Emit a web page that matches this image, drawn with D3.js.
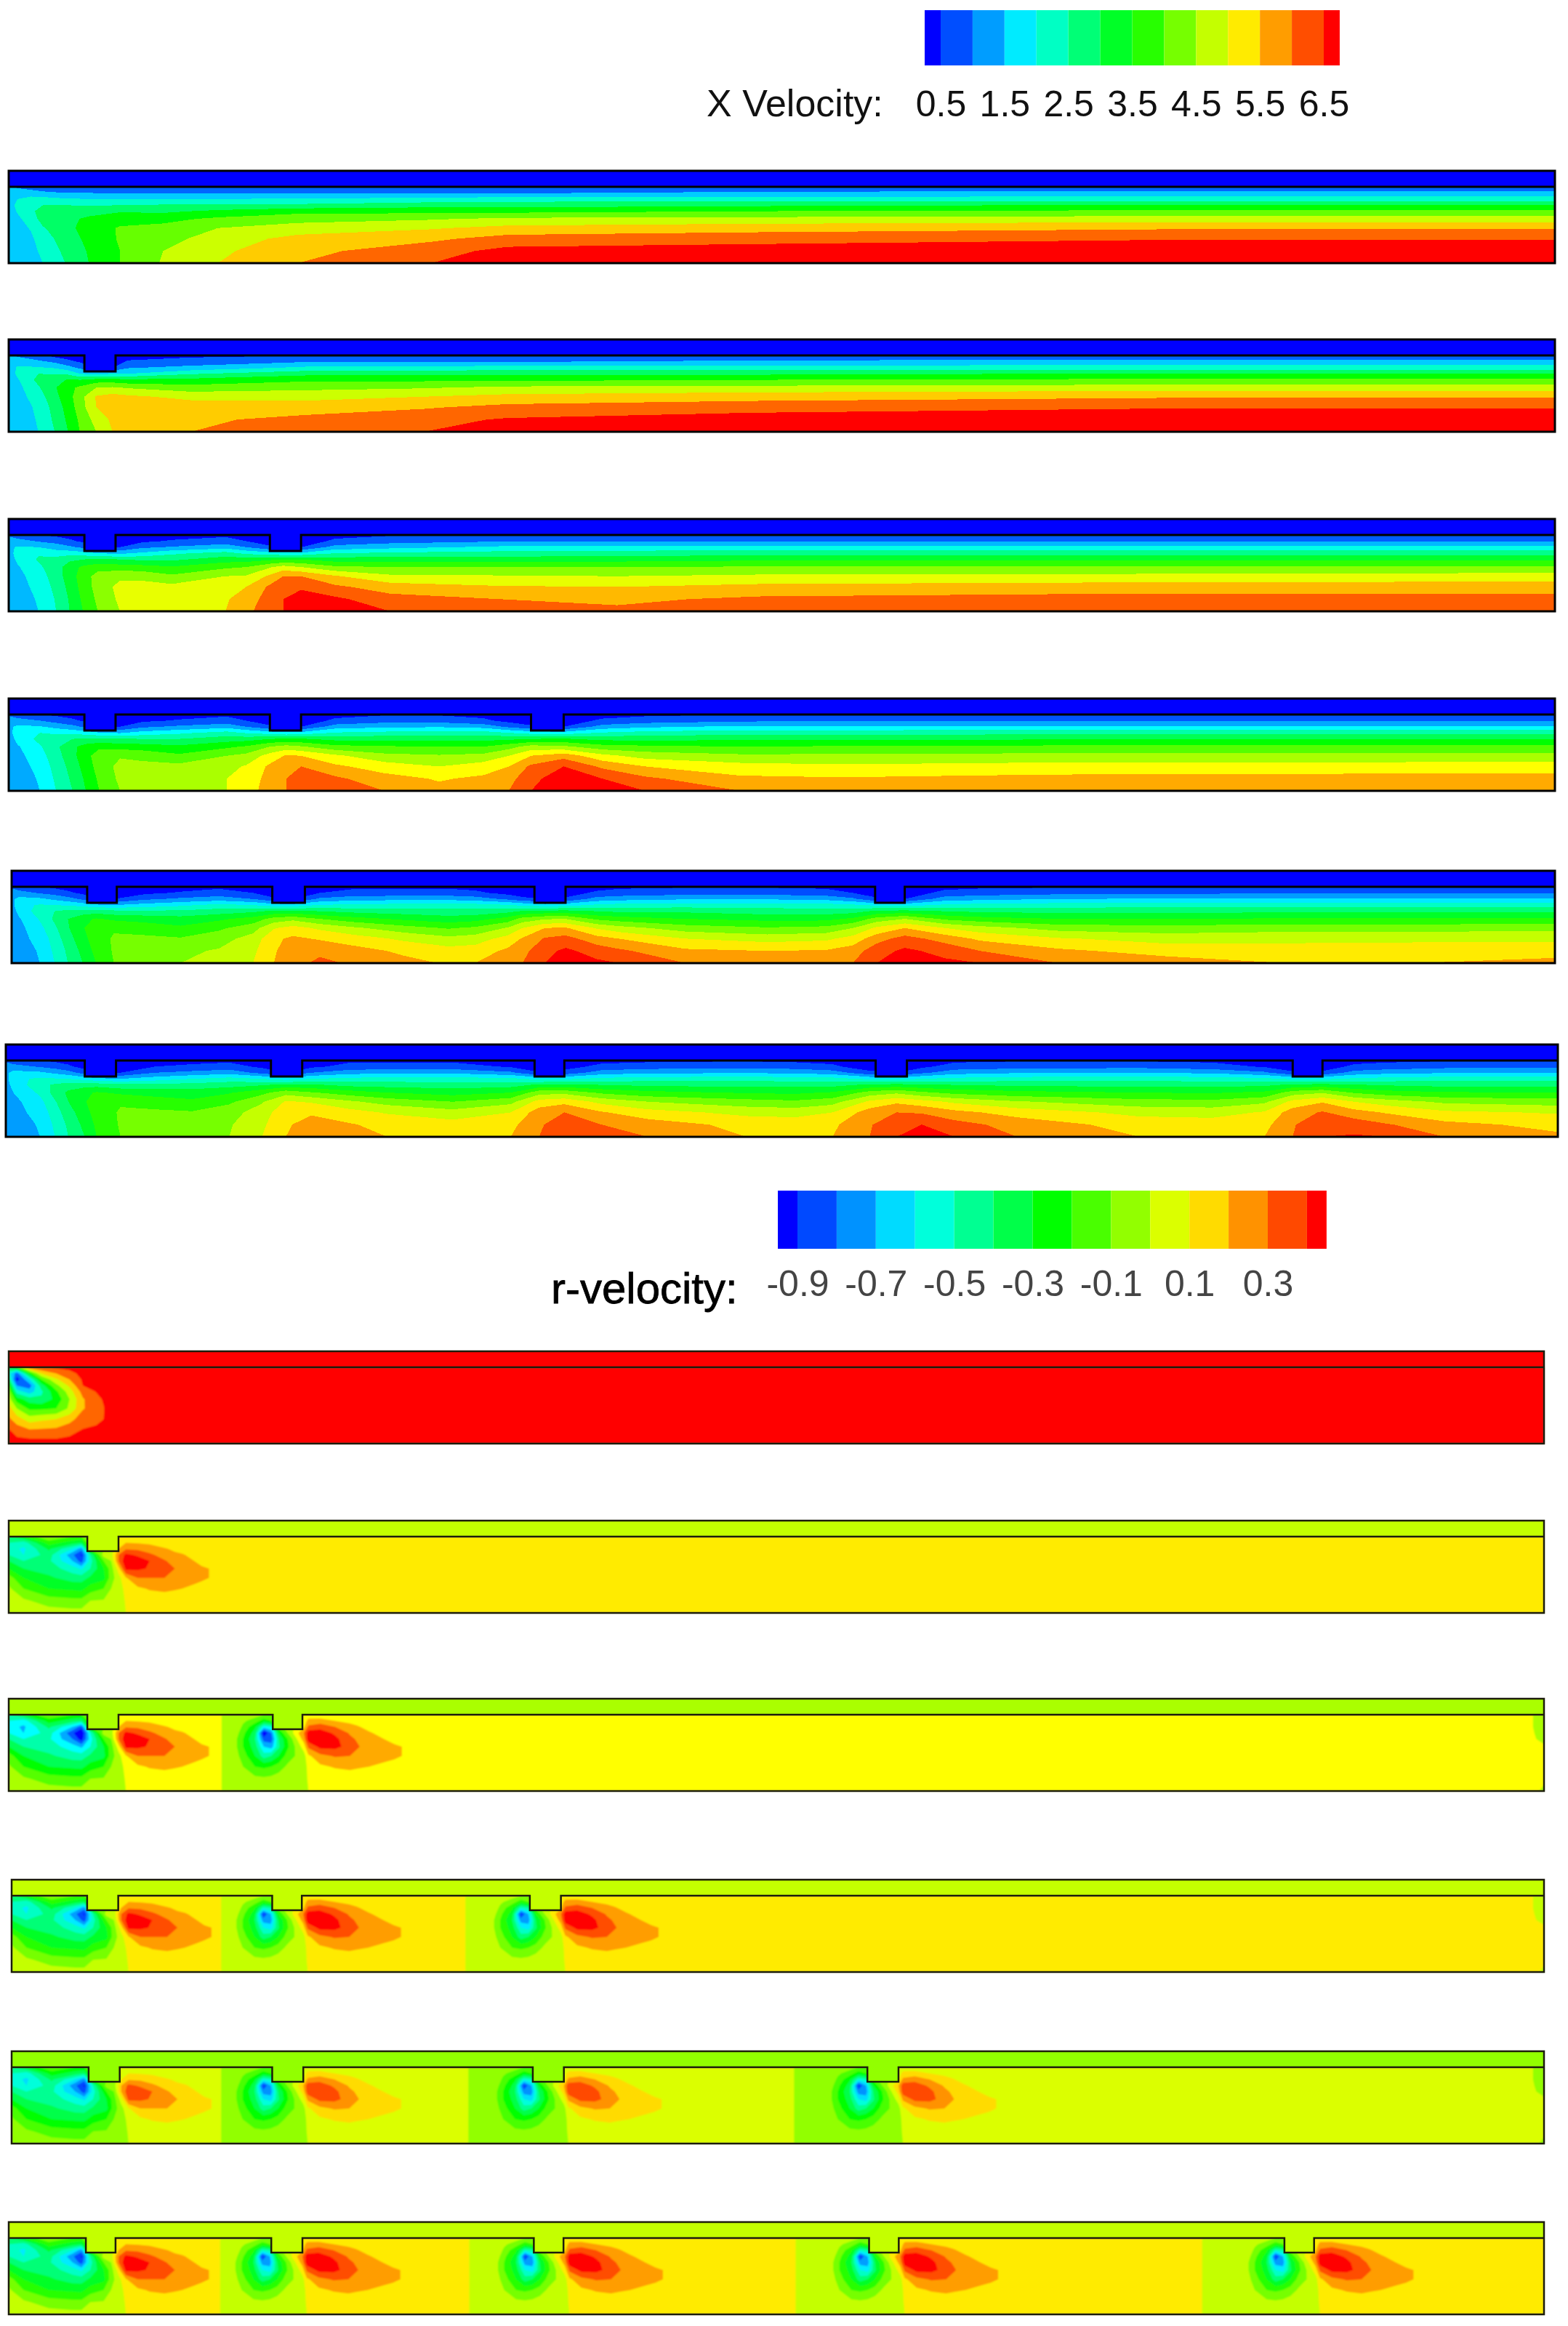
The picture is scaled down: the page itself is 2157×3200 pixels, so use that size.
<!DOCTYPE html>
<html>
<head>
<meta charset="utf-8">
<style>body{margin:0;background:#fff}text{font-family:"Liberation Sans",Arial,sans-serif}</style>
</head>
<body>
<svg></svg>
<script src="https://d3js.org/d3.v7.min.js"></script>
<script>
// depth stations across the channel, 0 at the wall and 1 at the axis
const rowDepths = [0, .08, .16, .24, .32, .42, .54, .68, .84, 1];

// X velocity, each column is [axial station, value at each depth]
const xVel1 = [
  [0,1.1,1.2,1.25,1.25,1.2,1.2,1.2,1.15,1.15,1.15],
  [6,.9,1.35,1.5,1.65,1.55,1.4,1.3,1.25,1.2,1.15],
  [15,.8,1.2,1.7,1.95,1.9,1.75,1.55,1.4,1.3,1.25],
  [23,.7,1.1,1.7,2,2.2,2.2,1.95,1.8,1.65,1.5],
  [38,.6,1,1.55,2,2.2,2.35,2.35,2.2,2.1,2],
  [54,.6,1,1.5,1.95,2.3,2.6,2.7,2.65,2.55,2.5],
  [75,.55,.95,1.5,2,2.45,2.8,3.05,3.05,3,3],
  [104,.5,.95,1.5,2.05,2.4,2.85,3.15,3.3,3.5,3.55],
  [141,.5,.95,1.5,2.1,2.6,3.1,3.5,3.75,3.9,4],
  [195,.5,.95,1.55,2.1,2.85,3.3,3.75,4.15,4.35,4.5],
  [285,.5,.95,1.65,2.3,2.85,3.45,3.95,4.4,4.8,5],
  [336,.5,.95,1.75,2.3,2.85,3.6,4.15,4.7,5.15,5.35],
  [500,.55,1.1,1.75,2.4,3,3.65,4.3,4.8,5.25,5.45],
  [800,.6,1.2,1.7,2.55,3.1,3.75,4.45,4.97,5.4,5.6],
  [1042,.6,1.2,1.7,2.55,3.1,3.75,4.45,4.97,5.4,5.6]
];
const xVel2 = [
  [0,1.1,1.2,1.25,1.25,1.2,1.2,1.2,1.15,1.15,1.15],
  [6,.9,1.35,1.55,1.6,1.45,1.35,1.3,1.25,1.2,1.15],
  [20,.6,1.1,1.55,2,2.15,1.95,1.75,1.6,1.55,1.5],
  [31,.35,.9,1.45,1.95,2.3,2.45,2.35,2.2,2.1,2],
  [40,.3,.6,1.2,1.9,2.55,2.85,2.8,2.7,2.6,2.5],
  [48,.2,.45,.9,1.5,2.5,3.1,3.3,3.25,3.1,3],
  [59,.2,.2,.4,1.3,2.7,3.5,4.05,4,3.7,3.5],
  [70,.2,.2,.5,1.5,2.7,3.55,4.2,4.2,4.1,4],
  [80,.3,.55,.95,1.5,2.6,3.45,4.1,4.25,4.2,4.2],
  [123,.4,.7,1.15,1.95,2.65,3.2,3.85,4.3,4.4,4.5],
  [200,.5,.95,1.6,2.35,2.9,3.35,3.85,4.25,4.65,4.85],
  [280,.5,.95,1.65,2.35,2.9,3.45,4,4.45,4.85,5],
  [336,.5,.95,1.75,2.4,2.9,3.6,4.15,4.65,5.05,5.3],
  [500,.55,1.1,1.75,2.4,3,3.65,4.3,4.8,5.25,5.45],
  [800,.6,1.2,1.7,2.55,3.1,3.75,4.45,4.97,5.4,5.6],
  [1042,.6,1.2,1.7,2.55,3.1,3.75,4.45,4.97,5.4,5.6]
];
const xVel3 = [
  [0,.9,1.3,1.4,1.3,1.25,1.2,1.2,1.15,1.15,1.15],
  [6,.7,1.2,1.55,1.7,1.6,1.45,1.35,1.3,1.25,1.2],
  [20,.5,.95,1.5,1.95,2.05,1.9,1.75,1.65,1.55,1.5],
  [32,.4,.8,1.3,1.75,2.2,2.3,2.25,2.15,2.05,2],
  [41,.3,.6,1.1,1.8,2.4,2.75,2.75,2.65,2.55,2.5],
  [50,.2,.4,.9,1.7,2.5,3.1,3.25,3.2,3.1,3],
  [60,.2,.2,.5,1.5,2.6,3.3,3.7,3.7,3.6,3.5],
  [75,.2,.2,.5,1.4,2.5,3.25,3.9,4.15,4.1,4],
  [90,.25,.4,.9,1.6,2.4,3.2,3.85,4.2,4.25,4.2],
  [110,.3,.55,1.05,1.9,2.4,3.05,3.6,4.15,4.35,4.35],
  [146,.4,.7,1.3,2.2,2.75,3.4,4,4.35,4.45,4.5],
  [160,.3,.5,1,1.9,2.75,3.5,4.05,4.5,4.7,4.85],
  [176,.2,.2,.6,1.7,2.9,3.95,4.6,5.1,5.25,5.35],
  [185,.2,.2,.4,1.6,3,4.2,5,5.45,5.5,5.5],
  [197,.2,.2,.5,1.6,3,4,5,5.45,5.65,5.75],
  [220,.35,.6,1.2,2,2.75,3.6,4.55,5.1,5.6,5.75],
  [257,.45,.8,1.35,2.1,2.8,3.5,4.1,4.75,5.2,5.5],
  [330,.5,.95,1.6,2.2,2.75,3.5,4.05,4.55,5,5.2],
  [410,.5,.95,1.65,2.25,2.8,3.5,4,4.5,4.9,5.1],
  [507,.5,.95,1.7,2.3,2.9,3.55,4.1,4.65,5.1,5.3],
  [750,.5,.95,1.7,2.3,2.9,3.55,4.15,4.75,5.2,5.4],
  [1042,.5,.95,1.7,2.3,2.9,3.55,4.25,4.75,5.2,5.4]
];
const xVel4 = [
  [0,.9,1.3,1.4,1.3,1.25,1.2,1.2,1.15,1.15,1.15],
  [6,.7,1.2,1.6,1.8,1.65,1.45,1.35,1.3,1.25,1.2],
  [21,.5,1,1.55,2,2.15,1.95,1.8,1.65,1.55,1.5],
  [32,.4,.8,1.35,1.9,2.3,2.4,2.3,2.2,2.1,2],
  [43,.3,.6,1.15,1.85,2.5,2.9,2.85,2.7,2.6,2.5],
  [52,.2,.4,.9,1.75,2.6,3.2,3.35,3.25,3.1,3],
  [61,.2,.2,.5,1.55,2.6,3.4,3.75,3.7,3.6,3.5],
  [75,.2,.2,.5,1.45,2.55,3.3,3.95,4.15,4.1,4],
  [90,.25,.4,.9,1.7,2.5,3.25,3.85,4.15,4.25,4.2],
  [115,.3,.55,1.1,1.9,2.5,3.1,3.6,4.15,4.35,4.35],
  [147,.4,.7,1.3,2.2,2.75,3.4,4,4.35,4.5,4.5],
  [160,.3,.5,1,1.95,2.8,3.55,4.15,4.55,4.75,4.8],
  [176,.2,.2,.6,1.75,3,4,4.7,5.1,5.15,5.2],
  [187,.2,.2,.4,1.6,3.05,4.2,5.05,5.4,5.5,5.5],
  [197,.2,.2,.5,1.65,3.05,4.05,5,5.5,5.7,5.75],
  [220,.35,.6,1.25,2.05,2.85,3.65,4.6,5.1,5.6,5.75],
  [253,.45,.8,1.4,2.15,2.85,3.55,4.15,4.75,5.2,5.5],
  [290,.45,.8,1.45,2.2,2.85,3.5,4.05,4.5,4.95,5.15],
  [320,.35,.6,1.3,2.25,2.85,3.5,4.15,4.75,5.1,5.4],
  [337,.25,.35,.9,2,2.9,3.8,4.5,5,5.3,5.5],
  [352,.2,.2,.6,1.8,3,4.2,5,5.6,5.9,6],
  [374,.2,.2,.5,1.7,3.05,4.1,5.3,6,6.2,6.3],
  [400,.3,.6,1.2,2.05,2.85,3.7,4.65,5.4,6,6.2],
  [429,.4,.75,1.4,2.2,2.85,3.6,4.3,5,5.6,6],
  [493,.5,.9,1.6,2.3,2.9,3.5,4.1,4.7,5.1,5.5],
  [560,.5,.95,1.6,2.3,2.9,3.55,4.1,4.6,5.05,5.3],
  [700,.5,.95,1.6,2.35,2.95,3.6,4.15,4.7,5.15,5.35],
  [1042,.5,.95,1.6,2.35,2.95,3.6,4.15,4.75,5.2,5.4]
];
const xVel5 = [
  [0,.9,1.3,1.4,1.3,1.25,1.2,1.2,1.15,1.15,1.15],
  [5,.7,1.2,1.65,1.85,1.65,1.45,1.35,1.3,1.25,1.2],
  [19,.5,.95,1.6,2.05,2.25,2.05,1.85,1.7,1.55,1.5],
  [29,.4,.8,1.4,2,2.5,2.6,2.4,2.2,2.1,2],
  [38,.3,.6,1.2,1.95,2.65,3,2.95,2.8,2.6,2.5],
  [48,.2,.4,.9,1.8,2.7,3.35,3.45,3.3,3.15,3],
  [57,.2,.2,.5,1.6,2.75,3.55,3.85,3.8,3.65,3.5],
  [69,.2,.2,.5,1.5,2.65,3.4,3.95,4.05,4.05,4],
  [90,.25,.4,.9,1.7,2.6,3.3,3.8,4.1,4.2,4.2],
  [114,.3,.55,1.1,1.9,2.6,3.2,3.6,4.05,4.4,4.5],
  [140,.4,.7,1.25,2.15,2.75,3.4,3.9,4.3,4.55,4.7],
  [163,.3,.5,1,2,2.9,3.7,4.3,4.7,4.9,5],
  [177,.2,.2,.6,1.75,3.1,4.2,4.95,5.4,5.45,5.5],
  [190,.2,.2,.5,1.7,3.15,4.35,5.2,5.6,5.75,5.85],
  [208,.3,.5,1.1,2.05,3,4,4.9,5.45,5.9,6.1],
  [230,.4,.65,1.3,2.1,2.85,3.7,4.6,5.25,5.7,5.95],
  [265,.4,.7,1.35,2.2,2.75,3.4,4.2,4.9,5.4,5.65],
  [295,.4,.7,1.35,2.2,2.7,3.2,3.95,4.65,5.2,5.45],
  [313,.35,.6,1.25,2.2,2.7,3.3,4.1,4.75,5.25,5.5],
  [335,.25,.35,.9,2.05,2.85,3.7,4.55,5.2,5.6,5.85],
  [345,.2,.2,.65,1.9,3.05,4.2,5,5.55,5.85,6],
  [360,.2,.2,.5,1.75,3.15,4.45,5.5,6.05,6.35,6.5],
  [374,.2,.25,.6,1.8,3.2,4.5,5.55,6.2,6.6,6.75],
  [395,.3,.6,1.2,2.1,3,3.9,4.95,5.7,6.3,6.6],
  [410,.4,.7,1.3,2.2,2.9,3.75,4.7,5.5,6.1,6.5],
  [455,.45,.8,1.45,2.25,2.9,3.5,4.25,5,5.6,6],
  [510,.45,.8,1.45,2.25,2.75,3.35,4.05,4.8,5.5,5.85],
  [550,.4,.7,1.35,2.2,2.75,3.35,4.15,4.9,5.55,5.95],
  [568,.3,.5,1.1,2.1,2.8,3.6,4.5,5.2,5.75,6],
  [584,.2,.2,.6,1.9,3.1,4.2,5.1,5.8,6.3,6.5],
  [603,.2,.2,.5,1.8,3.2,4.5,5.5,6.2,6.6,6.75],
  [630,.35,.65,1.25,2.1,3,3.9,5,5.8,6.35,6.6],
  [654,.4,.75,1.35,2.2,2.9,3.7,4.7,5.4,6,6.5],
  [707,.45,.85,1.5,2.25,2.85,3.5,4.3,5.05,5.6,6],
  [780,.5,.9,1.55,2.3,2.85,3.5,4.2,4.8,5.3,5.75],
  [860,.5,.93,1.6,2.3,2.9,3.55,4.3,4.85,5.25,5.5],
  [948,.5,.93,1.6,2.3,2.9,3.55,4.3,4.87,5.3,5.5],
  [1042,.5,.93,1.6,2.3,2.9,3.55,4.35,4.87,5.3,5.65]
];
const xVel6 = [
  [0,.9,1.3,1.4,1.3,1.25,1.2,1.2,1.15,1.15,1.15],
  [5,.7,1.2,1.65,1.85,1.7,1.5,1.35,1.3,1.25,1.2],
  [23,.5,.95,1.6,2.1,2.3,2.1,1.85,1.7,1.55,1.5],
  [33,.4,.8,1.4,2.05,2.6,2.7,2.45,2.25,2.1,2],
  [42,.3,.6,1.2,2,2.75,3.1,3,2.8,2.6,2.5],
  [53,.2,.3,.8,1.8,2.8,3.4,3.45,3.3,3.15,3],
  [61,.2,.2,.5,1.65,2.8,3.55,3.85,3.75,3.6,3.5],
  [77,.2,.2,.5,1.5,2.65,3.4,3.95,4.05,4.05,4],
  [100,.3,.5,1,1.75,2.65,3.3,3.75,4.1,4.2,4.2],
  [125,.35,.6,1.15,2,2.7,3.25,3.6,4.05,4.35,4.4],
  [150,.4,.7,1.3,2.2,2.8,3.45,3.9,4.3,4.45,4.5],
  [172,.25,.4,.85,2,2.95,3.85,4.45,4.75,4.9,5],
  [188,.2,.2,.5,1.75,3.15,4.3,5.05,5.35,5.45,5.5],
  [205,.25,.4,1,2,3.1,4.05,4.95,5.45,5.65,5.7],
  [230,.4,.65,1.3,2.15,2.85,3.75,4.6,5.2,5.55,5.65],
  [256,.4,.7,1.4,2.2,2.8,3.5,4.3,4.95,5.35,5.5],
  [300,.4,.7,1.4,2.2,2.75,3.3,4,4.7,5.2,5.4],
  [339,.3,.45,1.1,2.15,2.8,3.5,4.35,5,5.35,5.5],
  [358,.2,.2,.55,1.85,3.1,4.3,5.2,5.75,5.95,6],
  [375,.25,.3,.7,1.9,3.15,4.35,5.35,6,6.2,6.3],
  [400,.35,.65,1.25,2.15,3,3.9,4.85,5.55,6,6.2],
  [431,.4,.75,1.4,2.25,2.9,3.65,4.5,5.2,5.75,6],
  [497,.45,.85,1.45,2.3,2.85,3.45,4.2,4.85,5.35,5.5],
  [530,.4,.75,1.4,2.25,2.85,3.4,4.1,4.8,5.3,5.45],
  [555,.35,.6,1.25,2.2,2.85,3.55,4.3,5,5.4,5.5],
  [580,.2,.2,.65,1.9,3.1,4.2,5.1,5.75,5.95,6],
  [598,.2,.2,.5,1.8,3.2,4.4,5.4,6,6.4,6.5],
  [615,.3,.4,.9,2,3.1,4.1,5.2,5.95,6.5,6.65],
  [637,.4,.7,1.3,2.15,3,3.85,4.9,5.65,6.2,6.5],
  [679,.45,.8,1.45,2.25,2.9,3.65,4.55,5.3,5.8,6],
  [761,.45,.85,1.5,2.3,2.85,3.5,4.2,4.85,5.3,5.5],
  [810,.4,.7,1.4,2.25,2.85,3.45,4.15,4.8,5.25,5.45],
  [845,.3,.45,1.1,2.15,2.9,3.6,4.4,5.05,5.35,5.5],
  [864,.2,.2,.6,1.9,3.1,4.25,5.15,5.75,5.95,6],
  [884,.2,.25,.6,1.9,3.2,4.45,5.45,6.05,6.4,6.5],
  [905,.35,.6,1.2,2.1,3.05,3.95,5,5.7,6.3,6.55],
  [927,.4,.7,1.35,2.2,2.95,3.7,4.75,5.45,6.05,6.5],
  [966,.45,.85,1.45,2.3,2.85,3.55,4.4,5.1,5.65,6],
  [1042,.45,.85,1.5,2.3,2.85,3.5,4.25,4.95,5.35,5.6]
];

// r-velocity, no fin: the single cell at the inlet
const rInlet = [
  [0,-.5,-.65,-.55,-.4,-.3,-.25,-.15,-.08,.02,.05],
  [5.5,-.4,-.85,-.95,-.8,-.65,-.45,-.3,-.15,-.04,.05],
  [14,-.05,-.45,-.7,-.85,-.75,-.55,-.42,-.25,-.07,.05],
  [22,0,-.2,-.4,-.55,-.62,-.58,-.42,-.22,-.07,.05],
  [32,.02,-.1,-.22,-.33,-.42,-.47,-.4,-.2,-.06,.04],
  [41,.03,-.03,-.1,-.18,-.25,-.3,-.28,-.14,-.02,.03],
  [50,.05,.03,.015,0,-.06,-.11,-.11,-.04,.01,.05],
  [59,.05,.05,.05,.02,.005,-.03,-.04,-.02,.02,.05],
  [64,.05,.05,.05,.05,.03,.01,-.005,0,.03,.05],
  [68,.05,.05,.05,.05,.05,.05,.05,.05,.05,.05],
  [1035,.05,.05,.05,.05,.05,.05,.05,.05,.05,.05]
];
// r-velocity around the first fin, stations from the inlet
const rFirstFin = [
  [0,-.4,-.5,-.55,-.5,-.4,-.3,-.15,-.08,-.05,-.05],
  [10,-.3,-.55,-.62,-.6,-.5,-.4,-.3,-.2,-.08,-.05],
  [27,-.1,-.25,-.38,-.45,-.48,-.45,-.38,-.3,-.15,-.05],
  [43,-.2,-.35,-.6,-.78,-.7,-.55,-.45,-.32,-.17,-.06],
  [49,-.2,-.4,-.75,-.92,-.85,-.62,-.45,-.33,-.17,-.06],
  [55,-.1,-.1,-.2,-.5,-.55,-.5,-.38,-.25,-.1,-.05],
  [64,-.1,-.1,-.1,-.05,-.2,-.3,-.33,-.2,-.09,-.04],
  [69,-.05,-.05,-.05,-.05,-.1,-.15,-.15,-.1,-.05,-.02],
  [74,.05,.05,.1,.2,.2,.05,-.04,-.05,-.05,-.02],
  [79,.02,.1,.19,.33,.38,.33,.09,.03,.01,0],
  [87,.02,.09,.18,.28,.36,.32,.2,.08,.03,.02],
  [95,.02,.08,.15,.22,.3,.29,.2,.11,.04,.02],
  [105,.02,.05,.11,.16,.21,.26,.2,.12,.05,.02],
  [112,.02,.04,.08,.12,.16,.2,.16,.11,.04,.02],
  [117,.02,.03,.06,.11,.14,.16,.15,.1,.04,.02],
  [125,.02,.03,.04,.07,.1,.13,.13,.08,.03,.02],
  [130,.02,.03,.03,.05,.08,.11,.12,.06,.03,.02],
  [135,.02,.02,.03,.04,.06,.1,.1,.04,.03,.02],
  [139,.03,.03,.03,.03,.03,.03,.03,.03,.03,.03]
];
// r-velocity around every later fin, stations from the fin's upstream edge
const rNextFin = [
  [-25,-.05,-.03,-.03,-.05,-.08,-.08,-.06,-.04,-.03,-.03],
  [-20,-.05,-.08,-.12,-.17,-.2,-.2,-.15,-.1,-.05,-.03],
  [-12,-.05,-.15,-.28,-.35,-.4,-.35,-.3,-.2,-.07,-.03],
  [-6,-.1,-.25,-.55,-.9,-.75,-.6,-.45,-.22,-.08,-.03],
  [-1,-.1,-.2,-.5,-.7,-.75,-.65,-.4,-.2,-.07,-.03],
  [4,-.1,-.1,-.15,-.3,-.4,-.42,-.3,-.15,-.05,-.03],
  [10,-.05,-.05,-.05,-.1,-.2,-.22,-.15,-.08,-.04,-.03],
  [21,.02,.03,.08,.2,.15,.05,-.04,-.05,-.03,-.02],
  [24,.02,.14,.22,.36,.36,.22,.08,.03,.01,0],
  [32,.03,.14,.26,.36,.4,.33,.17,.08,.03,.02],
  [42,.03,.1,.2,.28,.33,.33,.21,.11,.04,.02],
  [52,.02,.07,.14,.19,.22,.26,.2,.12,.05,.02],
  [57,.02,.06,.11,.15,.19,.21,.17,.11,.05,.02],
  [65,.02,.04,.07,.11,.14,.16,.15,.1,.04,.02],
  [75,.02,.03,.04,.07,.1,.13,.13,.08,.03,.02],
  [82,.02,.03,.03,.05,.08,.11,.12,.06,.03,.02],
  [87,.02,.02,.03,.04,.06,.1,.1,.04,.03,.02],
  [92,.03,.03,.03,.03,.03,.03,.03,.03,.03,.03]
];
const rMain = [.03, .03, .03, .03, .03, .03, .03, .03, .03, .03];
const rSlip = [-.03, -.03, -.03, -.03, -.03, -.03, -.03, -.03, -.03, -.03];

// fin upstream and downstream edges for each panel
const xFins = [
  [],
  [[51, 72]],
  [[51, 72], [176, 197]],
  [[51, 72], [176, 197], [352, 374]],
  [[51, 71], [176, 198], [353, 374], [583, 603]],
  [[53, 74], [178, 199], [355, 375], [584, 605], [864, 884]]
];
const rFins = [
  [],
  [[53, 74]],
  [[53, 74], [178, 198]],
  [[51, 72], [176, 196], [350, 371]],
  [[52, 73], [176, 197], [352, 373], [578, 599]],
  [[52, 72], [177, 198], [354, 374], [580, 600], [860, 880]]
];
// how far upstream of each later fin the slower band starts
const rSlipLength = [[], [], [33], [33, 42], [33, 42, 48], [33, 42, 48, 54]];

// number of colour bands and lowest level of each panel
const xBands = [11, 11, 12, 13, 14, 14];
const rBands = [11, 14, 13, 14, 15, 14];
const rBase = [-.9, -.9, -.8, -.9, -.9, -.9];

const xTickValues = [.5, 1.5, 2.5, 3.5, 4.5, 5.5, 6.5];
const rTickValues = [-.9, -.7, -.5, -.3, -.1, .1, .3];

const width = 2157, height = 3200, panelH = 127;
const xFrames = [[12, 2139, 235], [12, 2139, 467], [12, 2139, 714], [12, 2139, 961], [16, 2139, 1198], [8, 2143, 1437]];
const rFrames = [[12, 2124, 1859], [12, 2124, 2092], [12, 2124, 2337], [16, 2124, 2586], [16, 2124, 2822], [12, 2124, 3057]];

const svg = d3.select('svg').attr('width', width).attr('height', height);
const rainbow = d3.scaleLinear().domain([0, 1, 2, 3, 4])
  .range(['#0000ff', '#00ffff', '#00ff00', '#ffff00', '#ff0000']);
const bandColors = n => d3.range(n).map(k => rainbow(k / (n - 1) * 4));
const tickText = v => v.toFixed(1);

svg.append('defs').append('filter').attr('id', 'soft')
  .append('feGaussianBlur').attr('stdDeviation', 1.1);

function buildRField(i) {
  if (!rFins[i].length) return rInlet;
  const cols = rFirstFin.slice();
  rFins[i].slice(1).forEach((fin, j) => {
    const left = fin[0] - rSlipLength[i][j];
    cols.push([left - 3].concat(rMain), [left].concat(rSlip));
    rNextFin.forEach(c => cols.push([fin[0] + c[0]].concat(c.slice(1))));
  });
  // i == 2,3,4 turn slower again right at the outlet
  if (i >= 2 && i <= 4) {
    cols.push([1022].concat(rMain));
    cols.push([1035, -.04, -.04, -.04, -.03, -.02, .01, .02, .03, .01, -.01]);
  } else {
    cols.push([1035].concat(rMain));
  }
  return cols;
}

function drawPanel(g, cols, frame, domainW, fins, colors, levels, opt) {
  const [x0, x1, top] = frame;
  const wall = top + opt.wall, bottom = top + panelH;
  const xPos = d3.scaleLinear().domain([0, domainW]).range([x0, x1]);
  const nx = cols.length, ny = rowDepths.length;
  const values = [];
  rowDepths.forEach((d, j) => cols.forEach(c => values.push(c[j + 1])));
  const gx = d3.scaleLinear().domain(d3.range(nx).map(i => i + .5)).range(cols.map(c => xPos(c[0]))).clamp(true);
  const gy = d3.scaleLinear().domain(d3.range(ny).map(j => j + .5)).range(rowDepths.map(d => wall + d * (bottom - wall))).clamp(true);
  const path = d3.geoPath(d3.geoTransform({
    point(x, y) { this.stream.point(gx(x), gy(y)); }
  }));
  const field = g.append('g').attr('shape-rendering', opt.crisp ? 'crispEdges' : null)
    .attr('filter', opt.crisp ? null : 'url(#soft)');
  field.append('rect').attr('x', x0).attr('y', wall).attr('width', x1 - x0).attr('height', bottom - wall).attr('fill', colors[0]);
  field.selectAll('path').data(d3.contours().size([nx, ny]).thresholds(levels)(values)).join('path')
    .attr('d', path)
    .attr('fill', (d, i) => colors[i + 1]);

  // wall line with the fins hanging off it
  const wallPts = [[x0, wall]];
  fins.forEach(f => {
    wallPts.push([xPos(f[0]), wall], [xPos(f[0]), wall + opt.fin], [xPos(f[1]), wall + opt.fin], [xPos(f[1]), wall]);
  });
  wallPts.push([x1, wall]);
  const line = d3.line();
  g.append('path').attr('d', line([[x0, top]].concat(wallPts, [[x1, top]])) + 'Z').attr('fill', colors[opt.strip]);
  g.append('path').attr('d', line(wallPts)).attr('fill', 'none').attr('stroke', opt.stroke).attr('stroke-width', opt.lw);
  g.append('rect').attr('x', x0).attr('y', top).attr('width', x1 - x0).attr('height', panelH)
    .attr('fill', 'none').attr('stroke', opt.stroke).attr('stroke-width', opt.lw);
}

function drawLegend(scale, colors, lowest, step, y0, y1, ticks, baseY, fill) {
  const edges = d3.range(colors.length).map(k => k === 0 ? lowest : lowest + step / 2 + (k - 1) * step);
  svg.append('g').selectAll('rect').data(colors).join('rect')
    .attr('x', (d, k) => scale(edges[k]))
    .attr('width', (d, k) => scale(k === colors.length - 1 ? edges[k] + step / 2 : edges[k + 1]) - scale(edges[k]))
    .attr('y', y0).attr('height', y1 - y0).attr('fill', d => d);
  const axis = svg.append('g').attr('transform', `translate(0,${baseY})`)
    .call(d3.axisBottom(scale).tickValues(ticks).tickSize(0).tickPadding(0).tickFormat(tickText));
  axis.select('.domain').remove();
  axis.selectAll('text').attr('font-size', 50).attr('fill', fill).attr('y', 0).attr('dy', 0)
    .attr('font-family', 'Liberation Sans');
}

const xCols = [xVel1, xVel2, xVel3, xVel4, xVel5, xVel6];
xCols.forEach((cols, i) => {
  const n = xBands[i];
  const levels = d3.range(1, n).map(k => k * .5);
  drawPanel(svg.append('g'), cols, xFrames[i], 1042, xFins[i], bandColors(n), levels,
    { wall: 22, fin: 22, strip: 0, crisp: true, stroke: '#000', lw: 3 });
});

rFrames.forEach((frame, i) => {
  const n = rBands[i];
  const levels = d3.range(n - 1).map(k => rBase[i] + k * .1);
  // the main flow sits in band 10 on most panels, the wall strip one below it
  const strip = i === 0 ? 10 : (i === 2 ? 8 : 9);
  drawPanel(svg.append('g'), buildRField(i), frame, 1035, rFins[i], bandColors(n), levels,
    { wall: 22, fin: 20, strip: strip, crisp: false, stroke: '#1c1c0c', lw: 2.5 });
});

// legends
const xLegend = d3.scaleLinear().domain([.5, 6.5]).range([1294, 1821]);
drawLegend(xLegend, bandColors(14), .25, .5, 14, 90, xTickValues, 160, '#111');
svg.append('text').attr('x', 972).attr('y', 160).attr('font-size', 52).attr('fill', '#111').text('X Velocity:');

const rLegend = d3.scaleLinear().domain([-.9, .3]).range([1097, 1744]);
drawLegend(rLegend, bandColors(15), -.95, .1, 1638, 1718, rTickValues, 1783, '#444');
svg.append('text').attr('x', 758).attr('y', 1793).attr('font-size', 60).attr('fill', '#000')
  .attr('stroke', '#000').attr('stroke-width', .8).text('r-velocity:');
</script>
</body>
</html>
